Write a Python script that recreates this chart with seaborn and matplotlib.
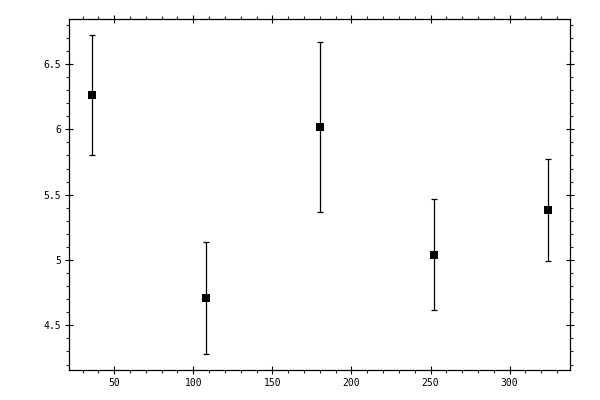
import numpy as np
import pandas as pd
import matplotlib
matplotlib.use("Agg")
import matplotlib.pyplot as plt
import seaborn as sns
from matplotlib.ticker import MultipleLocator, FuncFormatter

x_vals = [36, 108, 180, 252, 324]
y_vals = [6.26, 4.71, 6.015, 5.04, 5.38]
y_err = [0.46, 0.43, 0.65, 0.425, 0.39]

df = pd.DataFrame({"x": x_vals, "y": y_vals, "err": y_err})

sns.set_style("ticks")
plt.rcParams["font.family"] = ["DejaVu Sans Mono"]

fig = plt.figure(figsize=(6, 4), dpi=100)
ax = fig.add_axes([69.3 / 600, 30 / 400, (570.3 - 69.3) / 600, (370 - 19.3) / 400])

ax.errorbar(df["x"], df["y"], yerr=df["err"], fmt="none", ecolor="black",
            elinewidth=0.9, capsize=2.0, capthick=0.9, zorder=2)
sns.scatterplot(data=df, x="x", y="y", marker="s", s=30, color="black",
                edgecolor="black", linewidth=0, ax=ax, zorder=3)

lo = (df["y"] - df["err"]).min()
hi = (df["y"] + df["err"]).max()
pad = (hi - lo) * 0.05
ax.set_ylim(lo - pad, hi + pad)
xpad = (df["x"].max() - df["x"].min()) * 0.05
ax.set_xlim(df["x"].min() - xpad, df["x"].max() + xpad)

ax.xaxis.set_major_locator(MultipleLocator(50))
ax.xaxis.set_minor_locator(MultipleLocator(10))
ax.yaxis.set_major_locator(MultipleLocator(0.5))
ax.yaxis.set_minor_locator(MultipleLocator(0.1))
ax.yaxis.set_major_formatter(FuncFormatter(lambda v, p: f"{v:g}"))
ax.xaxis.set_major_formatter(FuncFormatter(lambda v, p: f"{v:g}"))

ax.tick_params(which="major", direction="inout", length=6, width=0.8,
               top=True, right=True, labelsize=7, pad=3, colors="black")
ax.tick_params(which="minor", direction="out", length=2.5, width=0.8,
               top=True, right=True)
for sp in ax.spines.values():
    sp.set_visible(True)
    sp.set_linewidth(0.9)
    sp.set_color("black")

ax.set_xlabel("")
ax.set_ylabel("")

fig.savefig("out.png", dpi=100)
